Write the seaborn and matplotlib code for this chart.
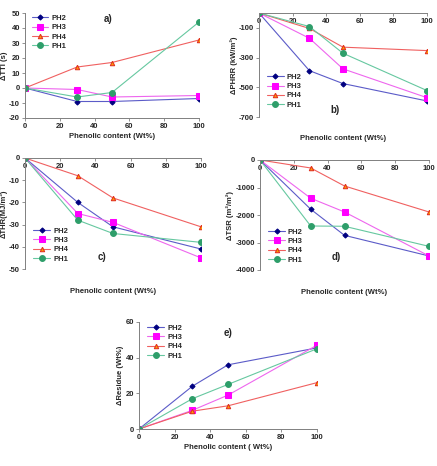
import matplotlib
matplotlib.use("Agg")
import matplotlib.pyplot as plt
import seaborn as sns

sns.set_style("white")
plt.rcParams['font.family'] = ['Liberation Sans', 'DejaVu Sans']
plt.rcParams['font.weight'] = 'bold'
plt.rcParams['axes.unicode_minus'] = False

content = [0, 30, 50, 100]
series = ["PH2", "PH3", "PH4", "PH1"]

tti = {"PH2": [0, -9, -9, -7], "PH3": [0, -1, -6, -5],
       "PH4": [0, 14, 17, 32], "PH1": [0, -6, -3, 44]}
phrr = {"PH2": [0, -388, -475, -592], "PH3": [0, -170, -376, -570],
        "PH4": [0, -104, -230, -253], "PH1": [0, -91, -271, -522]}
thr = {"PH2": [0, -20, -31, -41], "PH3": [0, -25, -29, -45],
       "PH4": [0, -8, -18, -31], "PH1": [0, -28, -34, -38]}
tsr = {"PH2": [0, -1790, -2740, -3490], "PH3": [0, -1390, -1890, -3490],
       "PH4": [0, -290, -945, -1890], "PH1": [0, -2400, -2410, -3140]}
residue = {"PH2": [0, 24, 36, 45.5], "PH3": [0, 10.5, 19, 47],
           "PH4": [0, 10, 13, 26], "PH1": [0, 17, 25, 45]}

styles = {
    "PH2": dict(color="#5b5bc8", marker="D", markerfacecolor="#000080", markeredgecolor="#000080", markersize=2.6),
    "PH3": dict(color="#ee66ee", marker="s", markerfacecolor="#ff00ff", markeredgecolor="#ff00ff", markersize=4.2),
    "PH4": dict(color="#f06060", marker="^", markerfacecolor="#ff9900", markeredgecolor="#e03020", markersize=3.2),
    "PH1": dict(color="#66c8a0", marker="o", markerfacecolor="#2e9e6a", markeredgecolor="#2e9e6a", markersize=4.2),
}

W, H = 437, 466
fig = plt.figure(figsize=(W / 100, H / 100), dpi=100)


def make_ax(l, r, t, b):
    return fig.add_axes([l / W, 1 - b / H, (r - l) / W, (b - t) / H])


def draw(ax, data, ylim, yticks, ylabel, tag, tagpos, legloc, xlabel="Phenolic content (Wt%)", top_axis=True):
    for s in series:
        sns.lineplot(x=content, y=data[s], ax=ax, label=s, linewidth=0.8, **styles[s])
    ax.set_xlim(0, 100)
    ax.set_xticks([0, 20, 40, 60, 80, 100])
    ax.set_ylim(*ylim)
    ax.set_yticks(yticks)
    ax.tick_params(labelsize=5.5, length=2, width=0.6, direction="out", pad=1.5)
    for sp in ax.spines.values():
        sp.set_color("#808080")
        sp.set_linewidth(0.7)
    ax.spines["right"].set_visible(False)
    ax.spines["top"].set_visible(False)
    if top_axis:
        ax.spines["bottom"].set_position(("data", 0))
    ax.tick_params(axis="both", bottom=True, left=True, color="#808080")
    ax.set_ylabel(ylabel, fontsize=5.5, fontweight="bold", labelpad=1)
    ax.set_xlabel(xlabel, fontsize=5.5, fontweight="bold")
    if top_axis:
        ax.xaxis.set_label_coords(0.5, -0.17)
    else:
        ax.xaxis.labelpad = 2
    ax.text(tagpos[0], tagpos[1], tag, fontsize=7, fontweight="bold", ha="center", va="center")
    ax.legend(loc=legloc, frameon=False, fontsize=5.5, handlelength=2.2,
              handletextpad=0.4, labelspacing=0.25, borderaxespad=0.3)
    for t in ax.get_xticklabels() + ax.get_yticklabels():
        t.set_fontweight("bold")


ax_a = make_ax(25, 199, 13, 118)
draw(ax_a, tti, (-20, 50), range(-20, 51, 10), "\u0394TTI (s)", "a)", (48, 46),
     (0.02, 0.62), top_axis=False)

ax_b = make_ax(259, 427, 13, 117)
draw(ax_b, phrr, (-700, 0), [-700, -500, -300, -100], "\u0394PHRR (kW/m\u00b2)", "b)", (45, -653),
     (0.03, 0.05))

ax_c = make_ax(25, 201, 158, 269)
draw(ax_c, thr, (-50, 0), range(-50, 1, 10), "\u0394THR(MJ/m\u00b2)", "c)", (44, -44.5),
     (0.03, 0.03))

ax_d = make_ax(260, 429, 160, 270)
draw(ax_d, tsr, (-4000, 0), range(-4000, 1, 1000), "\u0394TSR (m\u00b2/m\u00b2)", "d)", (45, -3540),
     (0.03, 0.03))

ax_e = make_ax(139, 317, 322, 429)
draw(ax_e, residue, (0, 60), range(0, 61, 20), "\u0394Residue (Wt%)", "e)", (50, 54),
     (0.03, 0.62), xlabel="Phenolic content ( Wt%)", top_axis=False)

fig.savefig("out.png", dpi=100)
